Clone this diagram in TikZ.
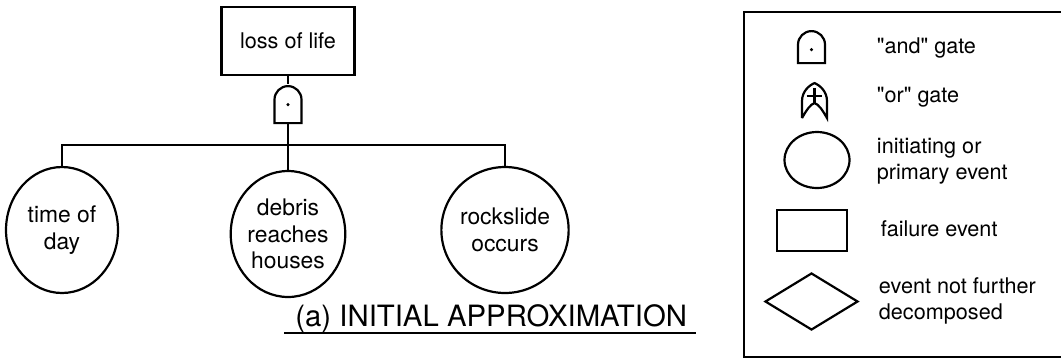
\documentclass[tikz,border=0pt]{standalone}
\usepackage{fontspec}
\setmainfont{TeX Gyre Heros}[Ligatures=TeXOff]
\usetikzlibrary{shapes.geometric,calc}
\begin{document}
\begin{tikzpicture}[x=0.02cm,y=0.02cm,line width=1.25pt,
  txt/.style={font=\fontsize{12.3}{14.5}\selectfont},
  event/.style={ellipse,draw,inner sep=0pt,align=center,
    minimum width=2.18cm,minimum height=2.52cm,font=\fontsize{13}{15}\selectfont},
  failbox/.style={rectangle,draw,inner sep=0pt,txt},
  legtext/.style={anchor=west,align=left,txt},
  gateslot/.style={inner sep=0pt,minimum width=0.54cm,minimum height=0.74cm},
  andgate/.pic={
    \draw (-13.5,0) -- (-13.5,#1) arc[start angle=180,end angle=0,radius=13.5]
          -- (13.5,0) -- cycle;
    \fill (0,#1-5) circle[radius=1.7];
  },
  orgate/.pic={
    \draw (-12.5,0) -- (-12.5,17) .. controls (-12.5,27) and (-5,33) .. (0,35)
          .. controls (5,33) and (12.5,27) .. (12.5,17) -- (12.5,0)
          .. controls (8,8) and (4,14) .. (0,15)
          .. controls (-4,14) and (-8,8) .. (-12.5,0);
    \draw (-8,22) -- (7,22) (0,15) -- (0,30);
  }]
\useasboundingbox (0,0) rectangle (1061,-360);

% top event and its and-gate
\node[failbox,minimum width=2.66cm,minimum height=1.36cm] (loss) at (288,-41) {loss of life};
\node[gateslot] (g) at (288,-103.5) {};
\pic at (g.south) {andgate=23.5};

% primary events
\node[event,minimum width=2.24cm] (tod) at (62,-230) {time of\\day};
\node[event] (deb)  at (288,-234) {debris\\reaches\\houses};
\node[event] (rock) at (505,-230) {rockslide\\occurs};

% connectors
\coordinate (bar) at (288,-145);
\draw (loss.south) -- (g.north);
\draw (g.south) -- (deb.north);
\draw (tod.north) |- (bar) -| (rock.north);

% caption
\node[anchor=base east,font=\fontsize{16.7}{20}\selectfont] (cap) at (694,-326) {(a) INITIAL APPROXIMATION};
\draw ($(cap.base west)+(-4,-7)$) -- ($(cap.base east)+(2,-7)$);

% legend
\draw[line width=1.6pt] (1061,-12) -- (744,-12) -- (744,-357) -- (1061,-357);
\node[gateslot,minimum height=0.64cm] (lg1) at (811.5,-46) {};
\pic at (lg1.south) {andgate=18.5};
\node[legtext] (lt1) at (870,-48) {"and" gate};
\node[gateslot,minimum height=0.7cm] (lg2) at (814.5,-99.5) {};
\pic at (lg2.south) {orgate};
\node[legtext] (lt2) at (870,-97) {"or" gate};
\node[ellipse,draw,inner sep=0pt,minimum width=1.3cm,minimum height=1.12cm] (lg3) at (817,-160) {};
\node[legtext] (lt3) at (870,-161) {initiating or\\primary event};
\node[failbox,minimum width=1.4cm,minimum height=0.82cm] (lg4) at (812,-230.5) {};
\node[legtext] (lt4) at (874,-229) {failure event};
\node[diamond,draw,inner sep=0pt,aspect=1.63,minimum width=1.86cm,minimum height=1.14cm] (lg5) at (811.5,-301.5) {};
\node[legtext] (lt5) at (872,-301) {event not further\\decomposed};
\end{tikzpicture}
\end{document}
